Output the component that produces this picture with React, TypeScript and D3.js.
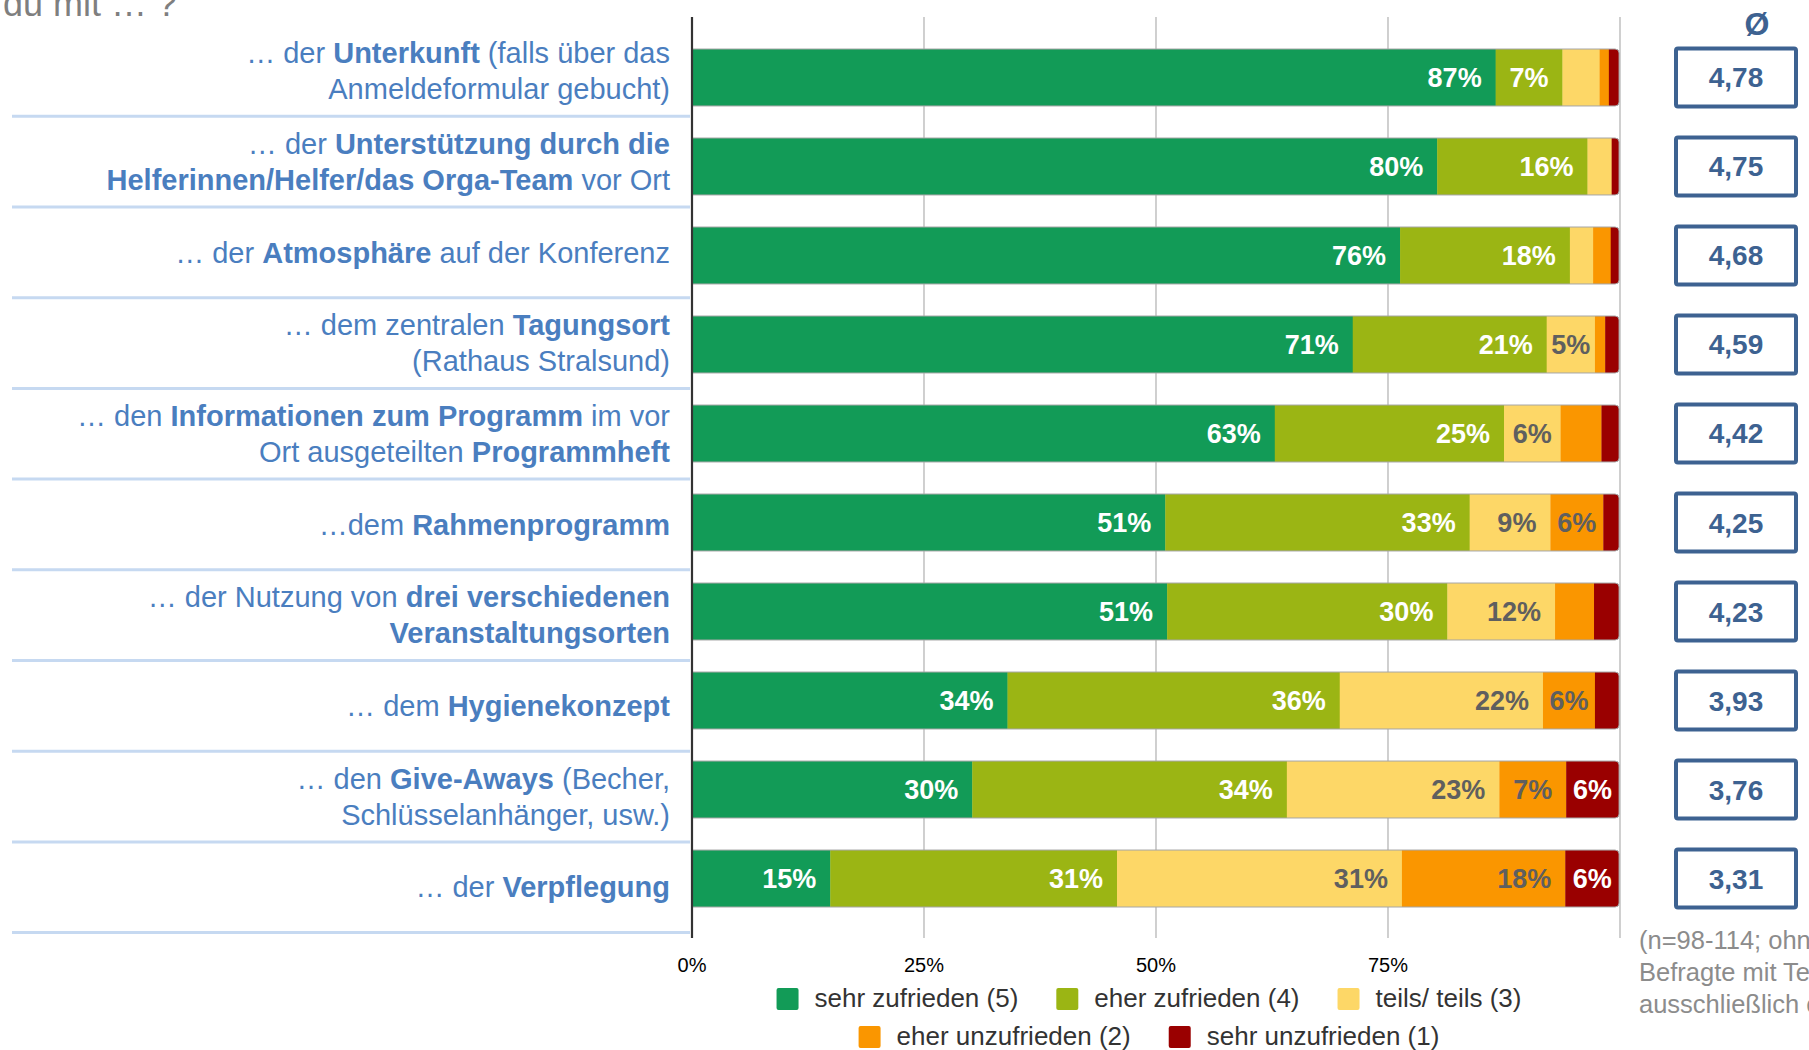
import React from 'react';
import * as d3 from 'd3';

const categories: string[][] = [
  ['… der **Unterkunft** (falls über das', 'Anmeldeformular gebucht)'],
  ['… der **Unterstützung durch die**', '**Helferinnen/Helfer/das Orga-Team** vor Ort'],
  ['… der **Atmosphäre** auf der Konferenz'],
  ['… dem zentralen **Tagungsort**', '(Rathaus Stralsund)'],
  ['… den **Informationen zum Programm** im vor', 'Ort ausgeteilten **Programmheft**'],
  ['…dem **Rahmenprogramm**'],
  ['… der Nutzung von **drei verschiedenen**', '**Veranstaltungsorten**'],
  ['… dem **Hygienekonzept**'],
  ['… den **Give-Aways** (Becher,', 'Schlüsselanhänger, usw.)'],
  ['… der **Verpflegung**'],
];

const sehrZufrieden = [86.6, 80.3, 76.3, 71.2, 62.8, 51.0, 51.2, 34.0, 30.2, 14.9];
const eherZufrieden = [7.2, 16.2, 18.3, 20.9, 24.7, 32.8, 30.2, 35.8, 33.9, 30.9];
const teilsTeils = [4.0, 2.6, 2.5, 5.2, 6.1, 8.7, 11.6, 21.9, 22.9, 30.7];
const eherUnzufrieden = [1.0, 0, 1.9, 1.1, 4.4, 5.7, 4.2, 5.6, 7.2, 17.6];
const sehrUnzufrieden = [1.1, 0.8, 0.9, 1.5, 1.9, 1.7, 2.7, 2.6, 5.7, 5.8];

const averages = ['4,78', '4,75', '4,68', '4,59', '4,42', '4,25', '4,23', '3,93', '3,76', '3,31'];
const seriesNames = ['sehr zufrieden (5)', 'eher zufrieden (4)', 'teils/ teils (3)', 'eher unzufrieden (2)', 'sehr unzufrieden (1)'];
const xTicks = [0, 25, 50, 75];
const gridTicks = [25, 50, 75, 100];
const footnote = ['(n=98-114; ohne', 'Befragte mit Teilnahme', 'ausschließlich online)'];

const COLORS = ['#129b57', '#9bb514', '#fdd767', '#fa9600', '#9a0000'];
const LABEL_COLORS = ['#ffffff', '#ffffff', '#5f5f5f', '#5f5f5f', '#ffffff'];
const FONT = '"Liberation Sans", Arial, Helvetica, sans-serif';

let ctx: CanvasRenderingContext2D | null = null;
function measure(text: string, size: number, bold = false): number {
  if (!ctx) ctx = document.createElement('canvas').getContext('2d');
  if (!ctx) return text.length * size * 0.55;
  ctx.font = `${bold ? 'bold ' : ''}${size}px ${FONT}`;
  return ctx.measureText(text).width;
}

function parseLine(line: string) {
  const parts = line.split('**');
  return parts.map((t, i) => ({ t, b: i % 2 === 1 })).filter((p) => p.t.length > 0);
}

export default function App() {
  const W = 1809;
  const H = 1050;
  const series = [sehrZufrieden, eherZufrieden, teilsTeils, eherUnzufrieden, sehrUnzufrieden];
  const idx = categories.map((_, i) => i);

  const x = d3.scaleLinear().domain([0, 100]).range([692, 1620]);
  const y = d3.scaleBand<number>().domain(idx).range([49, 907]).paddingInner(0.36).paddingOuter(0);
  const yLab = d3.scaleBand<number>().domain(idx).range([25.6, 932.6]).padding(0);
  const bw = y.bandwidth();
  const lbw = yLab.bandwidth();

  const stacked = d3.stack<number>().keys(d3.range(5).map(String)).value((i, k) => series[+k][i])(idx);

  const axisTop = 17;
  const axisBottom = 938;
  const r = 4;

  const makePath = (i: number, x0: number, close: boolean) => {
    const y0 = y(i)!;
    const total = d3.sum(series, (s) => s[i]);
    const x1 = x(total);
    const p = d3.path();
    p.moveTo(x0, y0);
    p.lineTo(x1 - r, y0);
    p.arcTo(x1, y0, x1, y0 + r, r);
    p.lineTo(x1, y0 + bw - r);
    p.arcTo(x1, y0 + bw, x1 - r, y0 + bw, r);
    p.lineTo(x0, y0 + bw);
    if (close) p.closePath();
    return p.toString();
  };

  const barFont = 27;
  const labelFont = 29;
  const lineGap = 36;
  const legendFont = 26;

  const swatch = 22;
  const swGap = 16;
  const itemGap = 38;
  const legendRows = [[0, 1, 2], [3, 4]];
  const legendCenter = 1149;
  const legendBaselines = [1007, 1045];

  return (
    <svg width={W} height={H} viewBox={`0 0 ${W} ${H}`} style={{ position: 'absolute', left: 0, top: 0, background: '#fff' }} fontFamily={FONT}>
      <defs>
        {idx.map((i) => (
          <clipPath id={`clip${i}`} key={i}>
            <path d={makePath(i, x(0) - 6, true)} />
          </clipPath>
        ))}
      </defs>
      <rect x={0} y={0} width={W} height={H} fill="#ffffff" />

      {/* title remnant (top is cut off, as in the source) */}
      <text x={3} y={16} fontSize={36} fill="#7f7f7f">du mit … ?</text>

      {/* row separators */}
      {idx.map((i) => {
        const yy = yLab(i)! + lbw;
        return <line key={i} x1={12} x2={690} y1={yy} y2={yy} stroke="#c6d9f1" strokeWidth={3} />;
      })}

      {/* category labels */}
      {categories.map((lines, i) => {
        const cy = yLab(i)! + lbw / 2;
        const startY = cy - ((lines.length - 1) * lineGap) / 2 + labelFont * 0.35;
        return (
          <g key={i}>
            {lines.map((ln, j) => (
              <text key={j} x={670} y={startY + j * lineGap} textAnchor="end" fontSize={labelFont} fill="#4a7ebf">
                {parseLine(ln).map((p, k) => (
                  <tspan key={k} fontWeight={p.b ? 'bold' : 'normal'}>{p.t}</tspan>
                ))}
              </text>
            ))}
          </g>
        );
      })}

      {/* gridlines */}
      {gridTicks.map((t) => (
        <line key={t} x1={x(t)} x2={x(t)} y1={axisTop} y2={axisBottom} stroke="#c4c4c4" strokeWidth={1.6} />
      ))}

      {/* bars */}
      {idx.map((i) => (
        <g key={i}>
          <g clipPath={`url(#clip${i})`}>
            {stacked.map((s, k) => {
              const d = s[i];
              const w = x(d[1]) - x(d[0]);
              if (w <= 0) return null;
              return <rect key={k} x={x(d[0])} y={y(i)!} width={w + 0.3} height={bw} fill={COLORS[k]} />;
            })}
          </g>
          <path d={makePath(i, x(0), false)} fill="none" stroke="#a6a6a6" strokeWidth={1} />
          {stacked.map((s, k) => {
            const d = s[i];
            const v = series[k][i];
            const lab = Math.round(v);
            if (lab < 5) return null;
            const txt = `${lab}%`;
            const segW = x(d[1]) - x(d[0]);
            const tw = measure(txt, barFont, true);
            const pad = Math.max(0, Math.min(14, (segW - tw) / 2));
            return (
              <text key={`l${k}`} x={x(d[1]) - pad} y={y(i)! + bw / 2 + barFont * 0.36} textAnchor="end" fontSize={barFont} fontWeight="bold" fill={LABEL_COLORS[k]}>
                {txt}
              </text>
            );
          })}
        </g>
      ))}

      {/* zero axis */}
      <line x1={x(0)} x2={x(0)} y1={axisTop} y2={axisBottom} stroke="#333333" strokeWidth={2.2} />

      {/* tick labels */}
      {xTicks.map((t) => (
        <text key={t} x={x(t)} y={972} textAnchor="middle" fontSize={20} fill="#000000">{`${t}%`}</text>
      ))}

      {/* average header */}
      <text x={1757} y={35} textAnchor="middle" fontSize={32} fontWeight="bold" fill="#3d6291">Ø</text>

      {/* average boxes */}
      {averages.map((a, i) => {
        const cy = y(i)! + bw / 2;
        return (
          <g key={i}>
            <rect x={1676} y={cy - 29} width={120} height={58} rx={2} fill="#ffffff" stroke="#3d6291" strokeWidth={4} />
            <text x={1736} y={cy + 10} textAnchor="middle" fontSize={28} fontWeight="bold" fill="#3d6291">{a}</text>
          </g>
        );
      })}

      {/* footnote (runs past the right edge, as in the source) */}
      {footnote.map((f, i) => (
        <text key={i} x={1639} y={949 + i * 32} fontSize={25.5} fill="#8c8c8c">{f}</text>
      ))}

      {/* legend */}
      {legendRows.map((row, ri) => {
        const widths = row.map((k) => swatch + swGap + measure(seriesNames[k], legendFont));
        const total = d3.sum(widths) + itemGap * (row.length - 1);
        let cx = legendCenter - total / 2;
        const base = legendBaselines[ri];
        return (
          <g key={ri}>
            {row.map((k, j) => {
              const x0 = cx;
              cx += widths[j] + itemGap;
              return (
                <g key={k}>
                  <rect x={x0} y={base - 19} width={swatch} height={swatch} rx={2} fill={COLORS[k]} />
                  <text x={x0 + swatch + swGap} y={base} fontSize={legendFont} fill="#333333">{seriesNames[k]}</text>
                </g>
              );
            })}
          </g>
        );
      })}
    </svg>
  );
}
